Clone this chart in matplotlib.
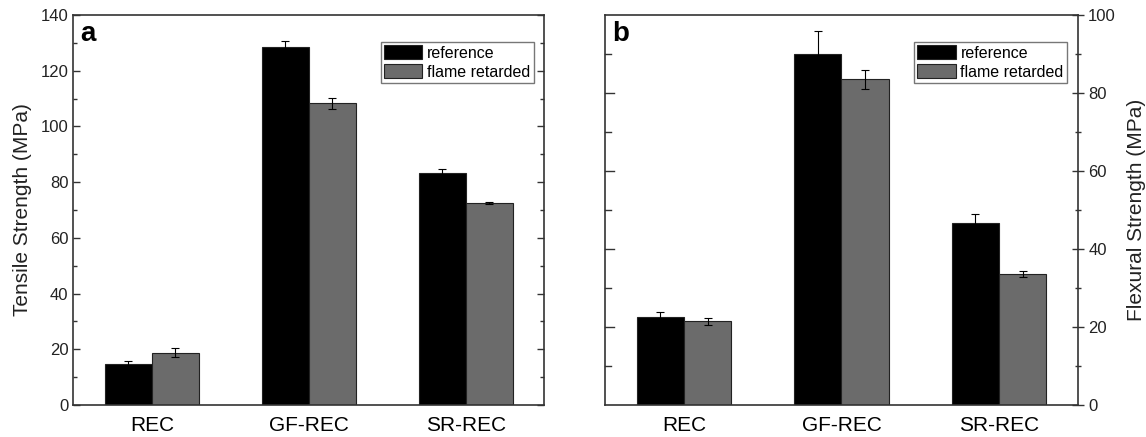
import numpy as np
import matplotlib
matplotlib.use("Agg")
import matplotlib.pyplot as plt
from matplotlib.ticker import MultipleLocator

plt.rcParams['font.family'] = ['Liberation Sans', 'DejaVu Sans']

categories = ['REC', 'GF-REC', 'SR-REC']
series = ['reference', 'flame retarded']

tensile_ref = [14.8, 128.6, 83.2]
tensile_ref_err = [1.0, 2.2, 1.7]
tensile_fr = [18.8, 108.3, 72.6]
tensile_fr_err = [1.5, 2.0, 0.4]

flex_ref = [22.6, 90.1, 46.6]
flex_ref_err = [1.3, 5.7, 2.3]
flex_fr = [21.5, 83.5, 33.6]
flex_fr_err = [0.9, 2.4, 0.8]

colors = ['#000000', '#6b6b6b']

fig = plt.figure(figsize=(11.46, 4.37), dpi=100)
ax1 = fig.add_axes([0.064, 0.0732, 0.411, 0.8924])
ax2 = fig.add_axes([0.528, 0.0732, 0.4125, 0.8924])

x = np.arange(len(categories))
w = 0.3


def draw(ax, ref, ref_err, fr, fr_err):
    ekw = dict(ecolor='#000000', elinewidth=0.8, capsize=3, capthick=0.8)
    ax.bar(x - w / 2, ref, w, yerr=ref_err, color=colors[0], edgecolor='#222222',
           linewidth=0.8, label=series[0], error_kw=ekw)
    ax.bar(x + w / 2, fr, w, yerr=fr_err, color=colors[1], edgecolor='#222222',
           linewidth=0.8, label=series[1], error_kw=ekw)
    ax.set_xlim(-0.5, 2.5)
    ax.set_xticks(x)
    ax.set_xticklabels(categories, fontsize=15)
    ax.tick_params(axis='x', length=0, pad=8)
    for s in ax.spines.values():
        s.set_linewidth(1.2)
        s.set_color('#333333')
    leg = ax.legend(loc='upper right', bbox_to_anchor=(0.977, 0.931), fontsize=11.5,
                    fancybox=False, framealpha=1, edgecolor='#777777',
                    handlelength=2.4, handleheight=1.0, handletextpad=0.3,
                    borderpad=0.2, labelspacing=0.2, borderaxespad=0)
    leg.get_frame().set_linewidth(1.0)


draw(ax1, tensile_ref, tensile_ref_err, tensile_fr, tensile_fr_err)
ax1.set_ylim(0, 140)
ax1.yaxis.set_major_locator(MultipleLocator(20))
ax1.yaxis.set_minor_locator(MultipleLocator(10))
ax1.tick_params(axis='y', which='both', direction='in', left=True, right=True,
                labelsize=12, colors='#333333', labelcolor='#222222')
ax1.tick_params(axis='y', which='major', length=5, width=1)
ax1.tick_params(axis='y', which='minor', length=3, width=1)
ax1.set_ylabel('Tensile Strength (MPa)', fontsize=15, color='#222222', labelpad=6)
ax1.text(0.015, 0.985, 'a', transform=ax1.transAxes, fontsize=20, fontweight='bold',
         va='top', ha='left')

draw(ax2, flex_ref, flex_ref_err, flex_fr, flex_fr_err)
ax2.set_ylim(0, 100)
ax2.yaxis.set_major_locator(MultipleLocator(20))
ax2.yaxis.set_minor_locator(MultipleLocator(10))
ax2.yaxis.tick_right()
ax2.yaxis.set_label_position('right')
ax2.tick_params(axis='y', which='both', direction='inout', right=True, left=False,
                labelleft=False, labelright=True, labelsize=12,
                colors='#333333', labelcolor='#222222')
ax2.tick_params(axis='y', which='major', length=8, width=1)
ax2.tick_params(axis='y', which='minor', length=5, width=1)
# inward ticks on the left side without labels
for v in np.arange(10, 100, 10):
    ax2.plot([0, 0.012 if v % 20 else 0.018], [v, v], color='#333333', lw=1,
             transform=ax2.get_yaxis_transform(), clip_on=False)
ax2.set_ylabel('Flexural Strength (MPa)', fontsize=15, color='#222222', labelpad=8)
ax2.text(0.015, 0.985, 'b', transform=ax2.transAxes, fontsize=20, fontweight='bold',
         va='top', ha='left')

fig.savefig('out.png', dpi=100, facecolor='white')
